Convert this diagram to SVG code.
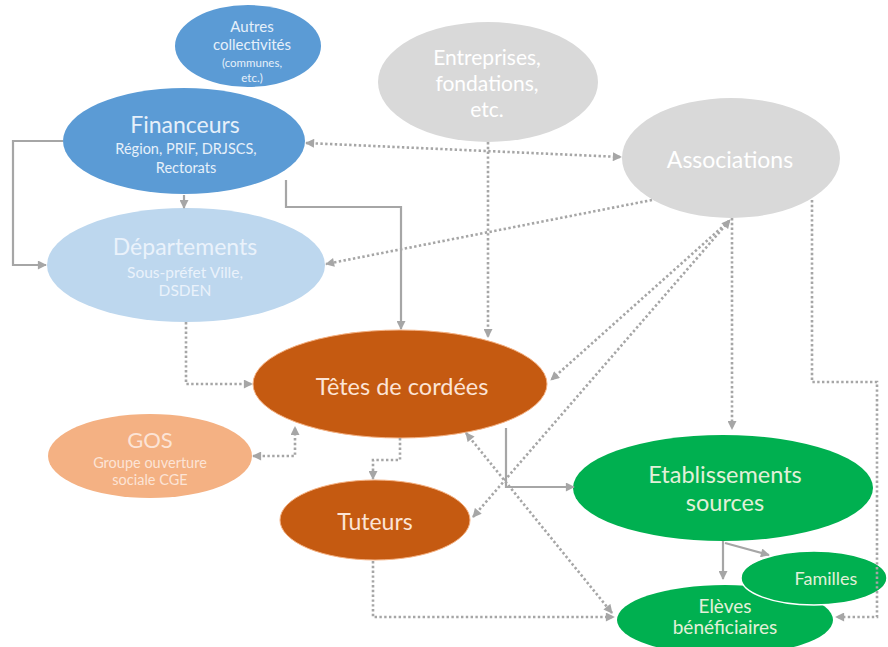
<svg xmlns="http://www.w3.org/2000/svg" width="888" height="647" viewBox="0 0 888 647">
<defs>
<marker id="ah" viewBox="0 0 10 10" refX="9" refY="5" markerWidth="10" markerHeight="9" markerUnits="userSpaceOnUse" orient="auto-start-reverse">
<path d="M0,0 L10,5 L0,10 z" fill="#a6a6a6"/>
</marker>
<style>
text{font-family:Lato,"Open Sans","Liberation Sans",sans-serif;text-anchor:middle}
.solid{fill:none;stroke:#a6a6a6;stroke-width:2.2;marker-end:url(#ah)}
.dot{fill:none;stroke:#a6a6a6;stroke-width:2.6;stroke-dasharray:2.4 2.4;marker-end:url(#ah)}
.both{marker-start:url(#ah)}
.blue{fill:#5b9bd5}
.lblue{fill:#bdd7ee}
.gray{fill:#d9d9d9}
.orange{fill:#c55a11;stroke:#f4b183;stroke-width:1}
.peach{fill:#f4b183}
.green{fill:#00b050}
.tb{fill:#e6f0fa}
.tl{fill:#eaf2fb}
.tg{fill:#ffffff}
.to{fill:#fce4d6}
.tgr{fill:#e2f0d9}
</style>
</defs>
<rect width="888" height="647" fill="#ffffff"/>

<g id="autres">
<ellipse class="blue" cx="248" cy="46" rx="73" ry="41"/>
<text class="tb" x="252" y="32" font-size="15">Autres</text>
<text class="tb" x="252" y="50" font-size="15">collectivités</text>
<text class="tb" x="252" y="67" font-size="11.5">(communes,</text>
<text class="tb" x="252" y="82" font-size="11.5">etc.)</text>
</g>

<g id="financeurs">
<ellipse class="blue" cx="184" cy="141" rx="121" ry="53"/>
<text class="tb" x="185" y="133" font-size="23">Financeurs</text>
<text class="tb" x="186" y="154" font-size="14.5">Région, PRIF, DRJSCS,</text>
<text class="tb" x="186" y="173" font-size="14.5">Rectorats</text>
</g>

<g id="departements">
<ellipse class="lblue" cx="186" cy="265" rx="139" ry="57"/>
<text class="tl" x="185" y="255" font-size="23">Départements</text>
<text class="tl" x="185" y="278" font-size="15.5">Sous-préfet Ville,</text>
<text class="tl" x="185" y="296" font-size="15.5">DSDEN</text>
</g>

<g id="entreprises">
<ellipse class="gray" cx="488" cy="82" rx="110" ry="60"/>
<text class="tg" x="487" y="65" font-size="21">Entreprises,</text>
<text class="tg" x="487" y="91" font-size="21">fondations,</text>
<text class="tg" x="487" y="117" font-size="21">etc.</text>
</g>

<g id="associations">
<ellipse class="gray" cx="731" cy="158" rx="109" ry="60"/>
<text class="tg" x="730" y="168" font-size="23">Associations</text>
</g>

<g id="gos">
<ellipse class="peach" cx="150" cy="456" rx="102" ry="42"/>
<text class="to" x="150" y="448" font-size="22">GOS</text>
<text class="to" x="150" y="468" font-size="14.5">Groupe ouverture</text>
<text class="to" x="150" y="485" font-size="14.5">sociale CGE</text>
</g>

<g id="tetes">
<ellipse class="orange" cx="400" cy="384" rx="147" ry="54"/>
<text class="to" x="402" y="395" font-size="23.5">Têtes de cordées</text>
</g>

<g id="tuteurs">
<ellipse class="orange" cx="375" cy="520" rx="95" ry="40"/>
<text class="to" x="375" y="530" font-size="23">Tuteurs</text>
</g>

<g id="etablissements">
<ellipse class="green" cx="723" cy="488" rx="150" ry="53"/>
<text class="tgr" x="725" y="483" font-size="23.5">Etablissements</text>
<text class="tgr" x="725" y="511" font-size="23.5">sources</text>
</g>

<g id="eleves">
<ellipse class="green" cx="725" cy="620" rx="108" ry="35"/>
<text class="tgr" x="725" y="613" font-size="19">Elèves</text>
<text class="tgr" x="725" y="634" font-size="19">bénéficiaires</text>
</g>

<g id="familles">
<ellipse class="green" cx="814" cy="578" rx="73" ry="27" stroke="#ffffff" stroke-width="1.5"/>
<text class="tgr" x="826" y="585" font-size="18">Familles</text>
</g>

<g id="connectors">
<path class="solid" d="M63,141 H13 V265 H46"/>
<path class="solid" d="M184,195 V208"/>
<path class="solid" d="M286,180 V207 H401 V329"/>
<path class="dot both" d="M306,143 L621,157"/>
<path class="dot" d="M488,142 V337"/>
<path class="dot" d="M652,200 L326,264"/>
<path class="dot" d="M729,221 L551,380"/>
<path class="dot both" d="M473,517 L730,220"/>
<path class="dot" d="M732,218 V429"/>
<path class="dot" d="M812,200 V382 H877 V617 H836"/>
<path class="dot" d="M186,322 V384 H252"/>
<path class="dot both" d="M253,456 H295 V427"/>
<path class="dot" d="M400,438 V460 H373 V479"/>
<path class="solid" d="M506,428 V487 H574"/>
<path class="dot both" d="M466,433 L612,613"/>
<path class="dot" d="M373,561 V617 H614"/>
<path class="solid" d="M723,541 V579"/>
<path class="solid" d="M725,543 L769,555"/>
</g>
</svg>
